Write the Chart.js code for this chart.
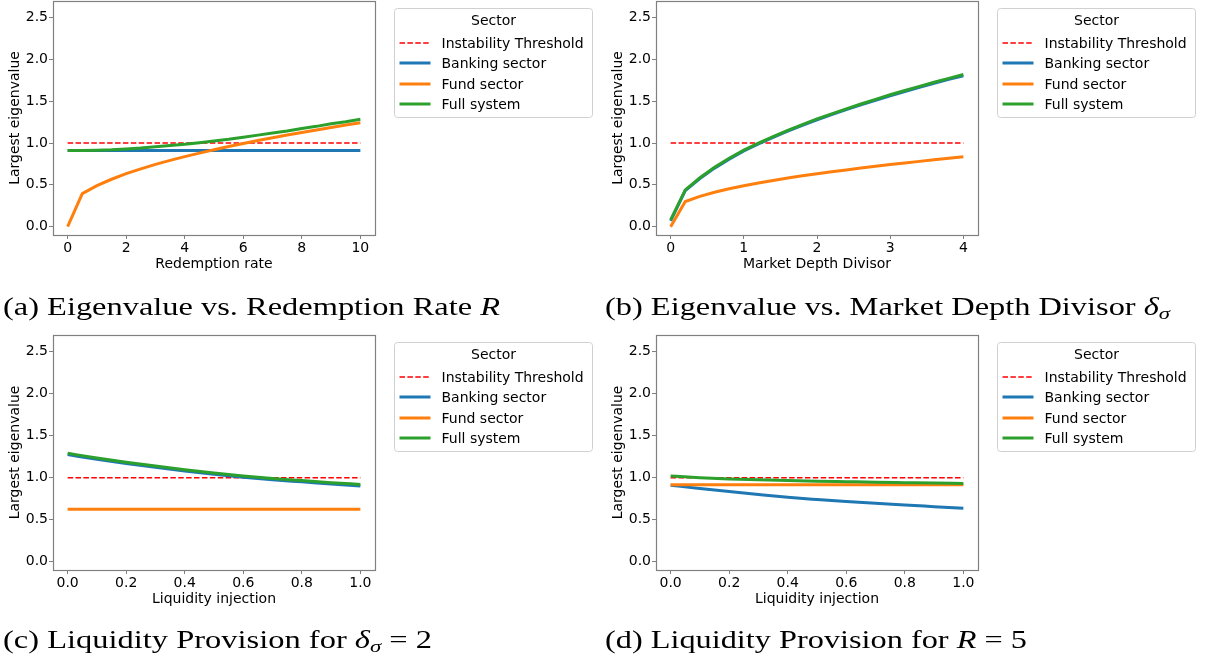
<!DOCTYPE html>
<html><head><meta charset="utf-8">
<script src="https://cdn.jsdelivr.net/npm/chart.js@4.4.0/dist/chart.umd.min.js"></script>
<style>
html,body{margin:0;padding:0;background:#fff;width:1205px;height:666px;overflow:hidden;position:relative}
canvas{position:absolute}
.cap{position:absolute;font-family:"Liberation Serif","Times New Roman",serif;font-size:25px;line-height:25px;white-space:nowrap;transform-origin:0 0;color:#000}
.cap sub{font-size:0.7em;vertical-align:-0.25em;line-height:0}
</style></head><body>
<canvas id="ca" width="600" height="330" style="left:0;top:0"></canvas>
<canvas id="cb" width="600" height="330" style="left:603px;top:0"></canvas>
<canvas id="cc" width="600" height="330" style="left:0;top:330px"></canvas>
<canvas id="cd" width="600" height="330" style="left:603px;top:330px"></canvas>
<div class="cap" id="capA" data-w="497" style="left:3px;top:294px">(a) Eigenvalue vs. Redemption Rate <i>R</i></div>
<div class="cap" id="capB" data-w="565" style="left:605px;top:294px">(b) Eigenvalue vs. Market Depth Divisor <i>δ</i><sub><i>σ</i></sub></div>
<div class="cap" id="capC" data-w="429" style="left:3px;top:627px">(c) Liquidity Provision for <i>δ</i><sub><i>σ</i></sub> = 2</div>
<div class="cap" id="capD" data-w="422" style="left:605px;top:627px">(d) Liquidity Provision for <i>R</i> = 5</div>
<script>
// ---------- data ----------
const seriesLabels = ["Instability Threshold", "Banking sector", "Fund sector", "Full system"];
const legendTitle = "Sector";
const threshold = 1.0;
const yTicks = [0, 0.5, 1.0, 1.5, 2.0, 2.5];

// (a) Redemption rate
const xA = [0,0.5,1,1.5,2,2.5,3,3.5,4,4.5,5,5.5,6,6.5,7,7.5,8,8.5,9,9.5,10];
const bankA = [0.91,0.91,0.91,0.91,0.91,0.91,0.91,0.91,0.91,0.91,0.91,0.91,0.91,0.91,0.91,0.91,0.91,0.91,0.91,0.91,0.91];
const fundA = [0,0.395,0.49,0.567,0.634,0.692,0.745,0.793,0.838,0.88,0.92,0.958,0.995,1.03,1.063,1.096,1.127,1.157,1.187,1.216,1.244];
const fullA = [0.91,0.912,0.915,0.92,0.93,0.94,0.955,0.97,0.985,1.005,1.025,1.045,1.07,1.095,1.12,1.145,1.175,1.2,1.23,1.255,1.285];
const xTicksA = [0,2,4,6,8,10];

// (b) Market depth divisor
const xB = [0,0.2,0.4,0.6,0.8,1.0,1.2,1.4,1.6,1.8,2.0,2.2,2.4,2.6,2.8,3.0,3.2,3.4,3.6,3.8,4.0];
const bankB = [0.07,0.43,0.575,0.7,0.808,0.905,0.99,1.068,1.142,1.212,1.278,1.34,1.4,1.457,1.512,1.566,1.617,1.667,1.716,1.762,1.806];
const fundB = [0,0.3,0.363,0.412,0.454,0.49,0.523,0.553,0.581,0.608,0.633,0.657,0.679,0.701,0.722,0.743,0.762,0.781,0.8,0.818,0.835];
const fullB = [0.08,0.44,0.585,0.71,0.818,0.915,1.0,1.078,1.152,1.222,1.29,1.35,1.41,1.467,1.523,1.578,1.629,1.679,1.728,1.774,1.82];
const xTicksB = [0,1,2,3,4];

// (c) Liquidity injection, delta_sigma = 2
const xC = [0,0.1,0.2,0.3,0.4,0.5,0.6,0.7,0.8,0.9,1.0];
const bankC = [1.275,1.22,1.17,1.125,1.08,1.04,1.005,0.975,0.95,0.925,0.9];
const fundC = [0.625,0.625,0.625,0.625,0.625,0.625,0.625,0.625,0.625,0.625,0.625];
const fullC = [1.29,1.235,1.185,1.14,1.095,1.055,1.02,0.99,0.965,0.94,0.92];
const xTicksC = [0,0.2,0.4,0.6,0.8,1.0];

// (d) Liquidity injection, R = 5
const xD = [0,0.1,0.2,0.3,0.4,0.5,0.6,0.7,0.8,0.9,1.0];
const bankD = [0.91,0.87,0.835,0.8,0.767,0.74,0.715,0.694,0.675,0.655,0.635];
const fundD = [0.915,0.915,0.915,0.915,0.915,0.915,0.915,0.915,0.915,0.915,0.915];
const fullD = [1.02,1.0,0.985,0.974,0.965,0.958,0.952,0.946,0.941,0.936,0.932];
const xTicksD = [0,0.2,0.4,0.6,0.8,1.0];

// ---------- chart building ----------
Chart.defaults.font.family = '"DejaVu Sans", sans-serif';
Chart.defaults.font.size = 14;
Chart.defaults.color = '#000';

const BLUE = '#1f77b4', ORANGE = '#ff7f0e', GREEN = '#2ca02c', RED = '#ff0000', SPINE = '#808080';

function pts(xs, ys){ return xs.map((x,i)=>({x:x, y:ys[i]})); }

const frame = {
  id:'frame',
  afterDraw(chart){
    const {ctx, chartArea:ca} = chart;
    ctx.save();
    ctx.strokeStyle = SPINE; ctx.lineWidth = 1.2;
    ctx.strokeRect(Math.round(ca.left)+0.5, Math.round(ca.top)+0.5, Math.round(ca.right-ca.left), Math.round(ca.bottom-ca.top));
    // legend
    const x = Math.round(ca.right) + 19.5, y = Math.round(ca.top) + 7.5, w = 198, h = 109, r = 3;
    ctx.beginPath();
    ctx.moveTo(x+r, y); ctx.lineTo(x+w-r, y); ctx.arcTo(x+w, y, x+w, y+r, r);
    ctx.lineTo(x+w, y+h-r); ctx.arcTo(x+w, y+h, x+w-r, y+h, r);
    ctx.lineTo(x+r, y+h); ctx.arcTo(x, y+h, x, y+h-r, r);
    ctx.lineTo(x, y+r); ctx.arcTo(x, y, x+r, y, r); ctx.closePath();
    ctx.fillStyle = 'rgba(255,255,255,0.8)'; ctx.fill();
    ctx.strokeStyle = '#d0d0d0'; ctx.lineWidth = 1; ctx.stroke();
    ctx.fillStyle = '#000'; ctx.font = '14px "DejaVu Sans"';
    ctx.textAlign = 'center'; ctx.textBaseline = 'middle';
    ctx.fillText(legendTitle, x + w/2, y + 13);
    ctx.textAlign = 'left';
    chart.data.datasets.forEach((ds, i) => {
      const cy = Math.round(y + 34 + i*20.6);
      ctx.save();
      ctx.beginPath();
      ctx.strokeStyle = ds.borderColor; ctx.lineWidth = ds.borderWidth;
      ctx.setLineDash(ds.borderDash || []);
      ctx.moveTo(x + 5, cy); ctx.lineTo(x + 36, cy); ctx.stroke();
      ctx.restore();
      ctx.fillStyle = '#000';
      ctx.fillText(ds.label, x + 47, cy + 1);
    });
    ctx.restore();
  }
};

function makeChart(id, xs, bank, fund, full, xTicks, xLabel, xDec, xmin, xmax, top, bottom, smooth){
  const H = 330, XH = 40;
  const tension = smooth ? 0.4 : 0;
  const common = {pointRadius:0, fill:false, tension:tension, cubicInterpolationMode: smooth ? 'monotone' : 'default'};
  new Chart(document.getElementById(id), {
    type:'line',
    data:{ datasets:[
      Object.assign({}, common, {label:seriesLabels[0], data:pts([xs[0], xs[xs.length-1]], [threshold, threshold]), borderColor:RED, borderWidth:1.5, borderDash:[5.5,2.4], order:4, tension:0}),
      Object.assign({}, common, {label:seriesLabels[1], data:pts(xs, bank), borderColor:BLUE, borderWidth:3, order:3}),
      Object.assign({}, common, {label:seriesLabels[2], data:pts(xs, fund), borderColor:ORANGE, borderWidth:3, order:2}),
      Object.assign({}, common, {label:seriesLabels[3], data:pts(xs, full), borderColor:GREEN, borderWidth:3, order:1})
    ]},
    options:{
      responsive:false, animation:false, devicePixelRatio:1,
      layout:{padding:{left:0, right:600-375, top:top, bottom:H-bottom-XH}},
      plugins:{legend:{display:false}, tooltip:{enabled:false}},
      scales:{
        x:{type:'linear', min:xmin, max:xmax,
          afterBuildTicks:s=>{ s.ticks = xTicks.map(v=>({value:v})); },
          afterFit:s=>{ s.height = XH; s.paddingLeft = 0; s.paddingRight = 0; s.paddingTop = 0; s.paddingBottom = 0; },
          ticks:{padding:1, color:'#000', font:{size:14}, maxRotation:0, autoSkip:false,
            callback:v=> xDec ? Number(v).toFixed(1) : String(Math.round(v))},
          grid:{display:true, drawOnChartArea:false, drawTicks:true, tickLength:4, tickColor:SPINE, tickWidth:1},
          border:{display:false},
          title:{display:true, text:xLabel, color:'#000', font:{size:14}, padding:{top:0, bottom:2.5}}
        },
        y:{type:'linear', min:-0.1, max:2.7,
          afterBuildTicks:s=>{ s.ticks = yTicks.map(v=>({value:v})); },
          afterFit:s=>{ s.width = 53; s.paddingLeft = 0; s.paddingRight = 0; s.paddingTop = 0; s.paddingBottom = 0; },
          ticks:{padding:1, color:'#000', font:{size:14}, autoSkip:false, callback:v=>Number(v).toFixed(1)},
          grid:{display:true, drawOnChartArea:false, drawTicks:true, tickLength:4, tickColor:SPINE, tickWidth:1},
          border:{display:false},
          title:{display:true, text:'Largest eigenvalue', color:'#000', font:{size:14}, padding:{top:7, bottom:0}}
        }
      }
    },
    plugins:[frame]
  });
}

makeChart('ca', xA, bankA, fundA, fullA, xTicksA, 'Redemption rate', false, -0.5, 10.5, 1, 235, false);
makeChart('cb', xB, bankB, fundB, fullB, xTicksB, 'Market Depth Divisor', false, -0.2, 4.2, 1, 235, false);
makeChart('cc', xC, bankC, fundC, fullC, xTicksC, 'Liquidity injection', true, -0.05, 1.05, 5, 240, true);
makeChart('cd', xD, bankD, fundD, fullD, xTicksD, 'Liquidity injection', true, -0.05, 1.05, 5, 240, true);

// fit caption widths
document.querySelectorAll('.cap').forEach(el=>{
  const target = parseFloat(el.dataset.w);
  const w = el.getBoundingClientRect().width;
  if (w > 0) el.style.transform = 'scaleX(' + (target / w) + ')';
});
</script>
</body></html>
